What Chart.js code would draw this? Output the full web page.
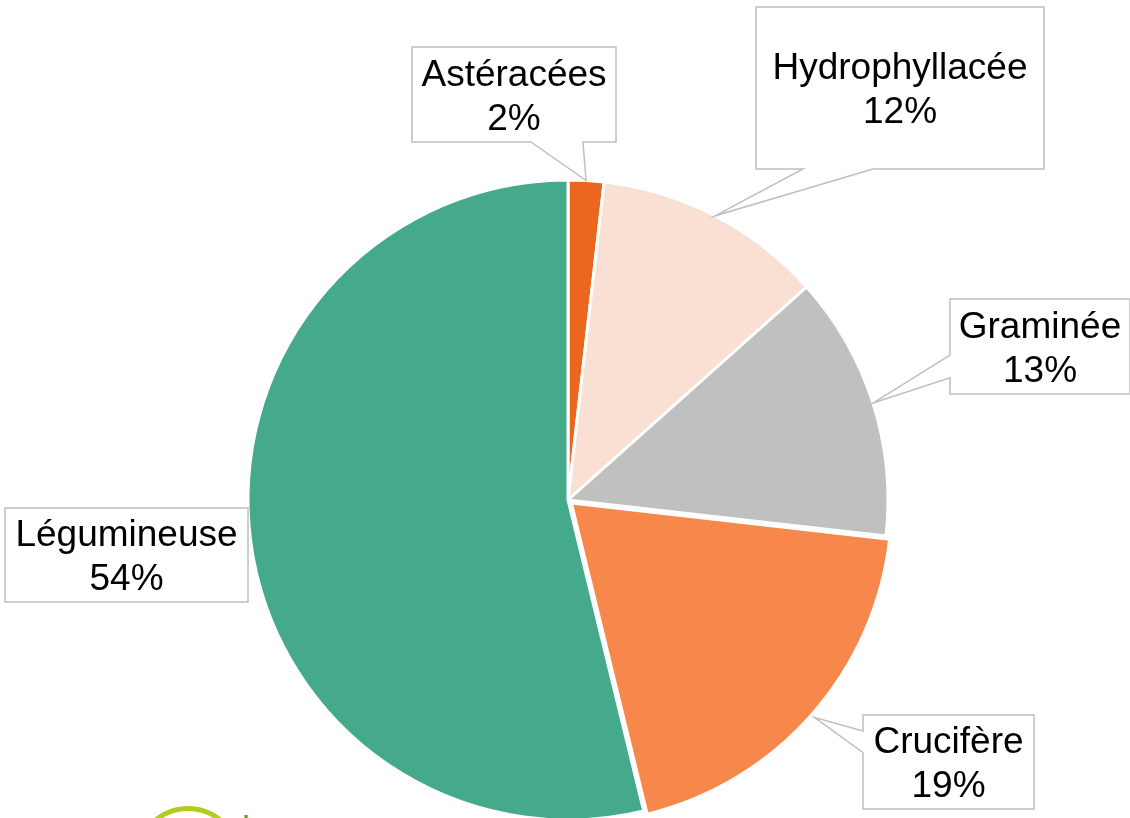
<!DOCTYPE html>
<html>
<head>
<meta charset="utf-8">
<script src="https://cdn.jsdelivr.net/npm/chart.js@4"></script>
<style>
  html, body { margin: 0; padding: 0; background: #ffffff; overflow: hidden; width: 1130px; height: 818px; }
  #wrap { position: absolute; left: 0; top: 0; width: 1130px; height: 840px; }
</style>
</head>
<body>
<div id="wrap"><canvas id="c" width="1130" height="840"></canvas></div>
<script>
// ---- Data ----
const categories = ['Astéracées', 'Hydrophyllacée', 'Graminée', 'Crucifère', 'Légumineuse'];
const shares = [1.8, 11.6, 13.4, 19.4, 53.8];

// ---- Styling (kept separate from data) ----
const sliceColors = ['#EB661F', '#FADFD3', '#C0C0C0', '#F8874B', '#45AA8B'];
const sliceOffsets = [0, 0, 0, 18, 0];

// Callout boxes, placed relative to the pie centre (px): box left/top offsets, size,
// side that carries the pointer and the two fractions along that side where the pointer starts.
const calloutLayout = [
  { dx: -156, dy: -453, w: 204, h: 95,  side: 'bottom', p: [0.583, 0.838] },
  { dx: 188,  dy: -493, w: 288, h: 162, side: 'bottom', p: [0.163, 0.406] },
  { dx: 382,  dy: -201, w: 180, h: 95,  side: 'left',   p: [0.59, 0.83] },
  { dx: 295,  dy: 215,  w: 171, h: 94,  side: 'left',   p: [0.17, 0.40] },
  { dx: -563, dy: 8,    w: 243, h: 94,  side: null,     p: null }
];

const total = shares.reduce((a, b) => a + b, 0);

const calloutPlugin = {
  id: 'callouts',
  afterDraw(chart) {
    const ctx = chart.ctx;
    const meta = chart.getDatasetMeta(0);
    ctx.save();
    meta.data.forEach((arc, i) => {
      const L = calloutLayout[i];
      const cx0 = arc.x, cy0 = arc.y;
      const x = cx0 + L.dx, y = cy0 + L.dy, w = L.w, h = L.h;
      const mid = (arc.startAngle + arc.endAngle) / 2;
      const off = (sliceOffsets[i] || 0) / 2;
      const r = arc.outerRadius + off;
      const tx = cx0 + Math.cos(mid) * r;
      const ty = cy0 + Math.sin(mid) * r;

      ctx.beginPath();
      if (L.side === 'bottom') {
        ctx.moveTo(x, y);
        ctx.lineTo(x + w, y);
        ctx.lineTo(x + w, y + h);
        ctx.lineTo(x + w * L.p[1], y + h);
        ctx.lineTo(tx, ty);
        ctx.lineTo(x + w * L.p[0], y + h);
        ctx.lineTo(x, y + h);
        ctx.closePath();
      } else if (L.side === 'left') {
        ctx.moveTo(x, y);
        ctx.lineTo(x + w, y);
        ctx.lineTo(x + w, y + h);
        ctx.lineTo(x, y + h);
        ctx.lineTo(x, y + h * L.p[1]);
        ctx.lineTo(tx, ty);
        ctx.lineTo(x, y + h * L.p[0]);
        ctx.closePath();
      } else {
        ctx.rect(x, y, w, h);
      }
      ctx.fillStyle = '#ffffff';
      ctx.fill();
      ctx.lineWidth = 1.5;
      ctx.strokeStyle = '#BFBFBF';
      ctx.lineJoin = 'miter';
      ctx.stroke();

      const pct = Math.round(shares[i] / total * 100) + '%';
      ctx.fillStyle = '#000000';
      ctx.font = '37px "Liberation Sans", Arial, sans-serif';
      ctx.textAlign = 'center';
      ctx.textBaseline = 'alphabetic';
      const bx = x + w / 2, by = y + h / 2;
      ctx.fillText(categories[i], bx, by - 9);
      ctx.fillText(pct, bx, by + 35);
    });

    // partial logo cut off at the bottom edge
    ctx.beginPath();
    ctx.arc(188, 859, 50.5, Math.PI, 2 * Math.PI);
    ctx.lineWidth = 5;
    ctx.strokeStyle = '#B5CC1E';
    ctx.stroke();
    ctx.fillStyle = '#6E9A24';
    ctx.font = 'bold 22px "Liberation Sans", Arial, sans-serif';
    ctx.textAlign = 'left';
    ctx.fillText('Les', 243, 830);
    ctx.restore();
  }
};

new Chart(document.getElementById('c'), {
  type: 'pie',
  data: {
    labels: categories,
    datasets: [{
      data: shares,
      backgroundColor: sliceColors,
      borderColor: '#ffffff',
      borderWidth: 3,
      offset: sliceOffsets,
      hoverOffset: 0
    }]
  },
  options: {
    responsive: false,
    devicePixelRatio: 1,
    animation: false,
    events: [],
    layout: { padding: { left: 237.5, right: 231.5, top: 169.5, bottom: 9.5 } },
    plugins: { legend: { display: false }, tooltip: { enabled: false } }
  },
  plugins: [calloutPlugin]
});
</script>
</body>
</html>
